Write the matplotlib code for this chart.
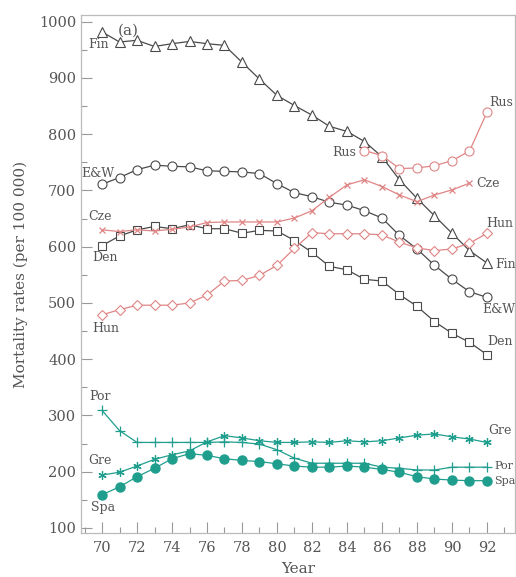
import numpy as np
import matplotlib
matplotlib.use("Agg")
import matplotlib.pyplot as plt
from matplotlib.ticker import MultipleLocator

plt.rcParams['font.family'] = ['DejaVu Serif']

years = np.arange(70, 93)

fin = [982, 964, 967, 956, 961, 965, 961, 958, 928, 898, 869, 851, 834,
       814, 805, 787, 760, 719, 686, 655, 624, 593, 571]
ew = [711, 723, 737, 745, 743, 742, 735, 734, 733, 730, 712, 696, 689,
      679, 674, 664, 651, 620, 596, 567, 542, 520, 510]
den = [602, 619, 630, 636, 632, 639, 632, 632, 624, 629, 628, 611, 590,
       565, 559, 542, 539, 515, 494, 467, 446, 430, 408]
cze = [630, 627, 630, 628, 631, 635, 643, 644, 644, 644, 644, 651, 664,
       688, 710, 719, 707, 692, 680, 692, 701, 713]
hun = [479, 488, 496, 496, 496, 500, 514, 539, 540, 549, 567, 597, 625,
       623, 623, 623, 621, 608, 598, 593, 596, 606, 624]
rus_years = np.arange(85, 93)
rus = [771, 762, 739, 740, 744, 753, 770, 839]
gre = [194, 199, 210, 222, 230, 237, 253, 264, 260, 255, 252, 252, 253,
       252, 255, 253, 255, 260, 265, 267, 262, 258, 252]
por = [309, 273, 252, 252, 252, 252, 252, 253, 252, 249, 239, 224, 215,
       215, 215, 215, 208, 206, 203, 203, 208, 208, 208]
spa = [159, 173, 191, 206, 223, 232, 229, 223, 220, 218, 214, 210, 208,
       208, 210, 208, 204, 199, 191, 187, 185, 184, 184]

dark = '#4a4a4a'
red = '#e08585'
teal = '#1f9e8e'
txt = '#555555'

fig = plt.figure(figsize=(5.16, 5.77), dpi=100)
ax = fig.add_axes([0.157, 0.0763, 0.841, 0.8977])

open_kw = dict(markerfacecolor='white', linewidth=0.9)
ax.plot(years, fin, color=dark, marker='^', markersize=7, markeredgewidth=0.8, **open_kw)
ax.plot(years, ew, color=dark, marker='o', markersize=6.5, markeredgewidth=0.8, **open_kw)
ax.plot(years, den, color=dark, marker='s', markersize=6, markeredgewidth=0.8, **open_kw)
ax.plot(years[:len(cze)], cze, color=red, marker='x', markersize=5, markeredgewidth=0.9, linewidth=0.9)
ax.plot(years, hun, color=red, marker='D', markersize=5.5, markeredgewidth=0.8, **open_kw)
ax.plot(rus_years, rus, color=red, marker='o', markersize=6.5, markeredgewidth=0.8, **open_kw)
ax.plot(years, gre, color=teal, marker=(6, 2, 0), markersize=6, markeredgewidth=0.9, linewidth=0.9)
ax.plot(years, por, color=teal, marker='+', markersize=7, markeredgewidth=0.9, linewidth=0.9)
ax.plot(years, spa, color=teal, marker='o', markersize=6.5, markeredgecolor=teal,
        markerfacecolor=teal, linewidth=0.9)

fs = 9
labels = [
    ("(a)", 71.5, 985, 'center', 11),
    ("Fin", 69.8, 959, 'center', fs),
    ("E&W", 69.75, 731, 'center', fs),
    ("Cze", 69.9, 653, 'center', fs),
    ("Den", 70.2, 580, 'center', fs),
    ("Hun", 70.2, 455, 'center', fs),
    ("Rus", 84.5, 768, 'right', fs),
    ("Rus", 92.8, 857, 'center', fs),
    ("Cze", 91.4, 713, 'left', fs),
    ("Hun", 92.75, 642, 'center', fs),
    ("Fin", 92.45, 568, 'left', fs),
    ("E&W", 92.65, 488, 'center', fs),
    ("Den", 92.75, 431, 'center', fs),
    ("Gre", 92.75, 274, 'center', fs),
    ("Por", 92.4, 210, 'left', 8),
    ("Spa", 92.4, 184, 'left', 8),
    ("Por", 69.9, 333, 'center', fs),
    ("Gre", 69.9, 219, 'center', fs),
    ("Spa", 70.05, 136, 'center', fs),
]
for s, x, y, ha, size in labels:
    ax.text(x, y, s, ha=ha, va='center', fontsize=size, color=txt)

ax.set_xlim(68.8, 93.6)
ax.set_ylim(91, 1012)
ax.xaxis.set_major_locator(MultipleLocator(2))
ax.xaxis.set_minor_locator(MultipleLocator(1))
ax.yaxis.set_major_locator(MultipleLocator(100))
ax.yaxis.set_minor_locator(MultipleLocator(50))
ax.tick_params(which='both', direction='in', colors='#999999', labelcolor=txt,
               labelsize=10.5, top=False, right=False)
ax.tick_params(which='major', length=8, width=0.8)
ax.tick_params(which='minor', length=4, width=0.8)
ax.tick_params(axis='x', pad=6)
for sp in ax.spines.values():
    sp.set_color('#bbbbbb')
    sp.set_linewidth(0.9)

ax.set_xlabel("Year", fontsize=11, color=txt, labelpad=5)
ax.set_ylabel("Mortality rates (per 100 000)", fontsize=11, color=txt, labelpad=8)

fig.savefig("out.png", dpi=100)
